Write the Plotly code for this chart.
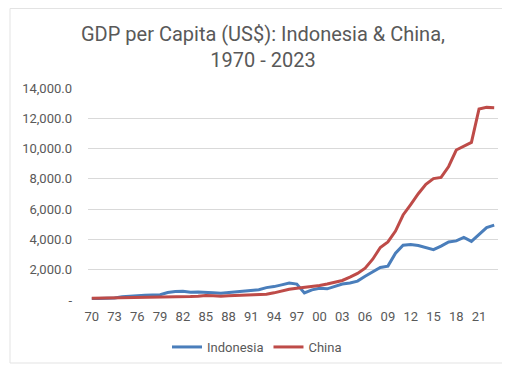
import plotly.graph_objects as go

years = list(range(1970, 2024))
indonesia = [83, 86, 98, 139, 216, 232, 268, 310, 333, 352,
             491, 566, 582, 505, 522, 516, 474, 443, 493, 544,
             585, 634, 676, 818, 884, 1001, 1114, 1050, 464, 671,
             780, 739, 888, 1052, 1125, 1249, 1571, 1841, 2145, 2239,
             3095, 3613, 3668, 3603, 3476, 3322, 3558, 3837, 3903, 4135,
             3870, 4334, 4784, 4940]
china = [113, 119, 132, 157, 160, 178, 165, 185, 156, 183,
         195, 197, 203, 225, 250, 294, 282, 252, 284, 311,
         318, 333, 366, 377, 473, 610, 709, 782, 829, 873,
         959, 1053, 1149, 1289, 1509, 1753, 2099, 2694, 3468, 3832,
         4550, 5614, 6301, 7020, 7636, 8016, 8094, 8817, 9905, 10144,
         10409, 12618, 12720, 12700]
x_tick_years = list(range(1970, 2022, 3))
x_tick_labels = [f"{y % 100:02d}" for y in x_tick_years]
y_tick_vals = [0, 2000, 4000, 6000, 8000, 10000, 12000, 14000]
y_tick_labels = ["-" if v == 0 else f"{v:,.1f}" for v in y_tick_vals]

# the page body has an 8px default margin; size the figure to fit the window
OFF = 8
W, H = 510 - OFF, 368 - OFF
# plot area in page pixels: x 88..498, y 88..300
L, T = 88 - OFF, 88 - OFF
R, B = W - (498 - OFF), H - (300 - OFF)
pw, ph = W - L - R, H - T - B

def px_x(p):
    return (p - OFF - L) / pw

def px_y(p):
    return (H - B - (p - OFF)) / ph

fig = go.Figure()
fig.add_trace(go.Scatter(x=years, y=indonesia, mode="lines", name="Indonesia",
                         line=dict(color="#4a7ebb", width=3)))
fig.add_trace(go.Scatter(x=years, y=china, mode="lines", name="China",
                         line=dict(color="#be4b48", width=3)))

fig.update_layout(
    width=W, height=H,
    margin=dict(l=L, r=R, t=T, b=B, autoexpand=False),
    paper_bgcolor="white", plot_bgcolor="white",
    font=dict(family="Roboto, sans-serif", color="#595959"),
    title=dict(text="GDP per Capita (US$): Indonesia & China,<br>1970 - 2023",
               x=(263 - OFF) / W, xanchor="center", y=1 - 33 / H, yanchor="middle",
               font=dict(size=20, color="#595959")),
    xaxis=dict(range=[1969.5, 2023.5], tickmode="array", tickvals=x_tick_years,
               ticktext=x_tick_labels, showgrid=False, zeroline=False,
               showline=False, ticks="", tickangle=0,
               tickfont=dict(size=13, color="#595959"), ticklabelstandoff=7),
    yaxis=dict(range=[0, 14000], tickmode="array", tickvals=y_tick_vals,
               ticktext=y_tick_labels, showgrid=True, gridcolor="#d9d9d9",
               gridwidth=1, zeroline=False, showline=False, ticks="",
               tickfont=dict(size=13, color="#595959"), ticklabelstandoff=15),
    legend=dict(orientation="h", x=px_x(257), xanchor="center",
                y=px_y(347), yanchor="middle", font=dict(size=13, color="#595959"),
                bgcolor="rgba(0,0,0,0)"),
    showlegend=True,
    shapes=[dict(type="rect", xref="paper", yref="paper",
                 x0=px_x(10), x1=px_x(530), y0=px_y(363), y1=px_y(OFF + 0.5),
                 line=dict(color="#e3e3e3", width=1), layer="below")],
)

fig.write_html("out.html")
